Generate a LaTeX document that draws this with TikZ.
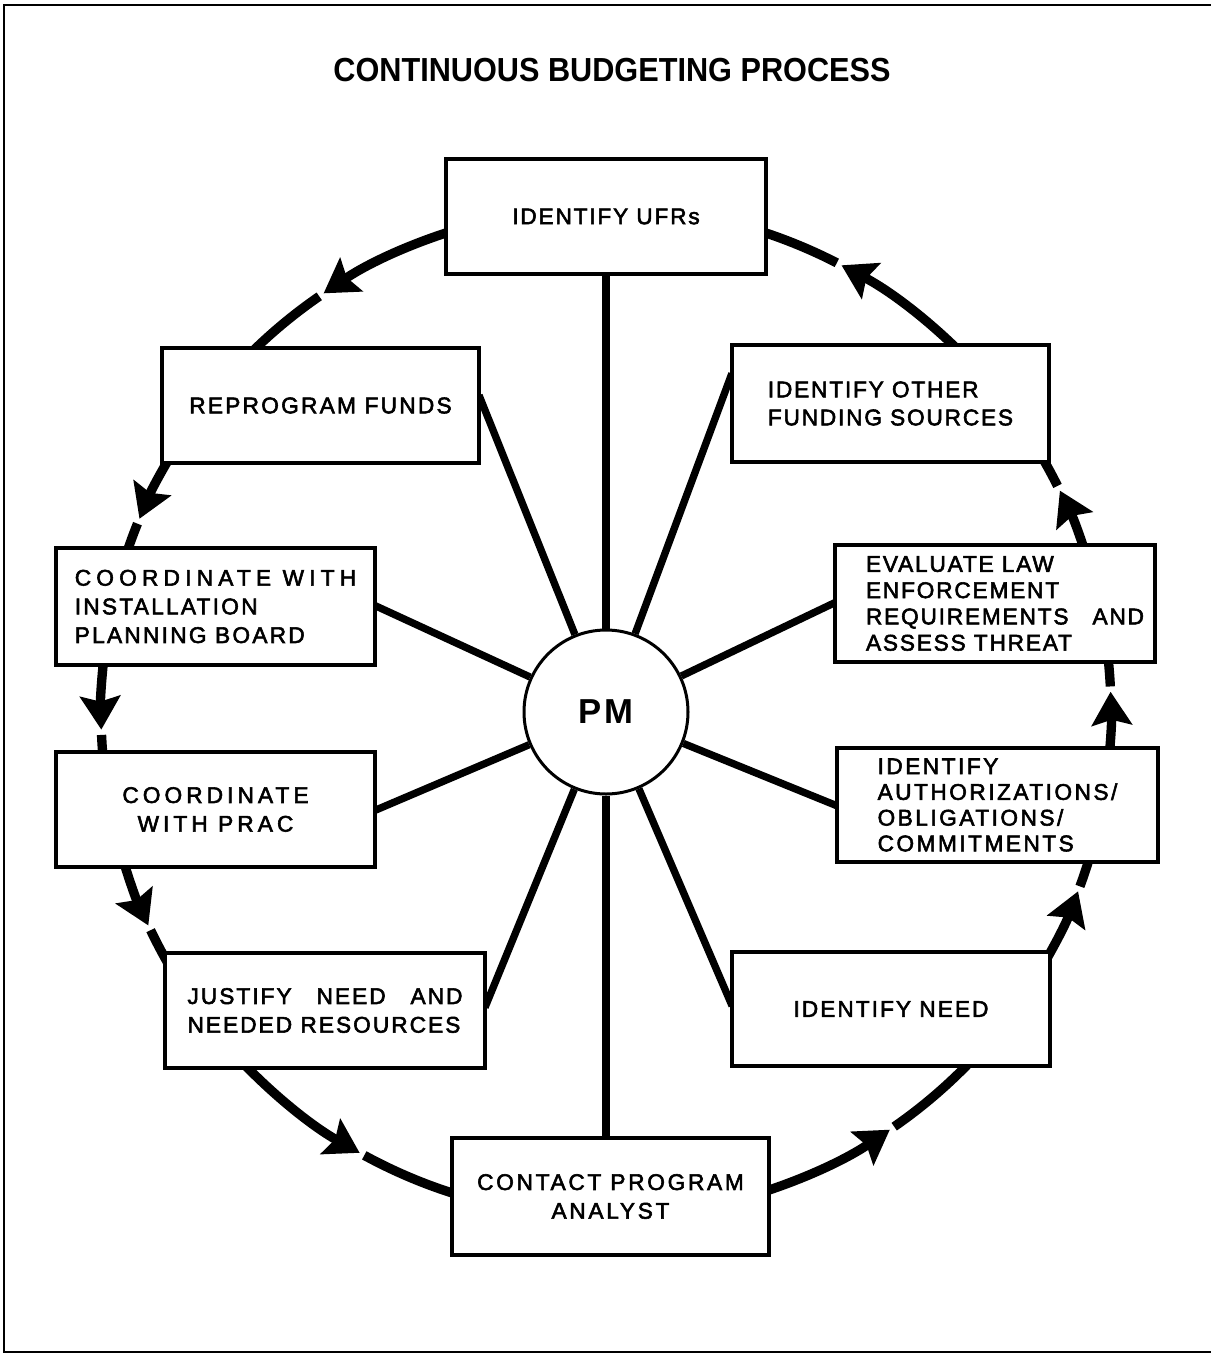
\documentclass[tikz,border=0pt]{standalone}
\usepackage{fontspec}
\setmainfont{Liberation Sans}
\newfontfamily\boxfont[FakeBold=2.5]{Liberation Sans}
\usetikzlibrary{arrows.meta,backgrounds}
\newcommand{\ls}[1]{\addfontfeature{LetterSpace=#1}}
\newcommand{\ringarc}[4]{%
  \draw[ringline,ringtip] (pm.center) ++(#1:378.75pt) arc[start angle=#1, end angle=#2, radius=378.75pt];
  \draw[ringline] (pm.center) ++(#3:378.75pt) arc[start angle=#3, end angle=#4, radius=378.75pt];}
\newcommand{\ind}{\hspace*{15pt}}
\begin{document}
\begin{tikzpicture}[x=0.75pt,y=-0.75pt,
  pbox/.style={draw, line width=3pt, fill=white, rectangle, inner sep=0pt,
    font=\boxfont\fontsize{17}{21.5}\selectfont\ls{#1}},
  spoke/.style={line width=5.5pt, shorten >=-4pt},
  ringline/.style={line width=7pt},
  ringtip/.style={-{Stealth[length=25pt,width=30pt,inset=4pt]}},
  framebox/.style={line width=2pt}]

\useasboundingbox (0,0) rectangle (1211,1354);
\draw[framebox] (1211,5) -- (4,5) -- (4,1352) -- (1211,1352);

\node (title) at (612,70) {\scalebox{0.92}[1]{\fontsize{25}{30}\selectfont\bfseries CONTINUOUS BUDGETING PROCESS}};

\node[circle, draw, line width=2.25pt, fill=white, minimum size=123pt, inner sep=0pt,
  font=\fontsize{26}{30}\selectfont\bfseries\ls{6}] (pm) at (606,712) {PM};

\node[pbox=8, minimum width=240pt, minimum height=86.25pt] (b1) at (606,216.5) {IDENTIFY UFRs};
\node[pbox=10, minimum width=237.75pt, minimum height=86.25pt] (b2) at (320.5,405.5) {REPROGRAM FUNDS};
\node[pbox=10, minimum width=239.25pt, minimum height=87.75pt, align=left] (b3) at (215.5,606.5)
  {{\ls{23}COORDINATE WITH}\\INSTALLATION\\PLANNING BOARD};
\node[pbox=18, minimum width=239.25pt, minimum height=86.25pt, align=center] (b4) at (215.5,809.5)
  {COORDINATE\\WITH PRAC};
\node[pbox=9, minimum width=240pt, minimum height=86.25pt, align=left] (b5) at (325,1010.5)
  {\makebox[206.25pt][s]{JUSTIFY NEED AND}\\NEEDED RESOURCES};
\node[pbox=12, minimum width=237.75pt, minimum height=87.75pt, align=center] (b6) at (610.5,1196.5)
  {CONTACT PROGRAM\\ANALYST};
\node[pbox=9, minimum width=238.5pt, minimum height=85.5pt] (b7) at (891,1009) {IDENTIFY NEED};
\node[pbox=11, minimum width=240.75pt, minimum height=85.5pt, align=left,
  font=\boxfont\fontsize{17}{19.3}\selectfont\ls{11}] (b8) at (997.5,805)
  {IDENTIFY\\AUTHORIZATIONS/\\OBLIGATIONS/\\COMMITMENTS};
\node[pbox=8, minimum width=240pt, minimum height=87.75pt, align=left,
  font=\boxfont\fontsize{17}{19.7}\selectfont\ls{8}] (b9) at (995,603.5)
  {\ind EVALUATE LAW\\\ind ENFORCEMENT\\\ind\makebox[208.5pt][s]{REQUIREMENTS AND}\\\ind ASSESS THREAT};
\node[pbox=8, minimum width=237.75pt, minimum height=87.75pt, align=left,
  font=\boxfont\fontsize{17}{21}\selectfont\ls{8}] (b10) at (890.5,403.5)
  {IDENTIFY OTHER\\FUNDING SOURCES};

\begin{scope}[on background layer]
  \draw[spoke] (pm) -- (pm|-b1.south);
  \draw[spoke] (pm) -- ([yshift=4pt]b2.east);
  \draw[spoke] (pm) -- (b3.east);
  \draw[spoke] (pm) -- (b4.east);
  \draw[spoke] (pm) -- ([yshift=6pt]b5.east);
  \draw[spoke] (pm) -- (pm|-b6.north);
  \draw[spoke] (pm) -- ([yshift=6pt]b7.west);
  \draw[spoke] (pm) -- (b8.west);
  \draw[spoke] (pm) -- (b9.west);
  \draw[spoke] (pm) -- ([yshift=18.75pt]b10.west);
  \ringarc{104}{124}{124.6}{136}
  \ringarc{147}{157.5}{158.1}{164}
  \ringarc{172}{182}{182.6}{187}
  \ringarc{195}{205}{205.6}{211}
  \ringarc{222}{240.8}{241.4}{255}
  \ringarc{-75}{-55.8}{-55.2}{-42}
  \ringarc{-33}{-20.8}{-20.2}{-14}
  \ringarc{-8}{2.3}{2.9}{8}
  \ringarc{15}{26}{26.6}{34}
  \ringarc{42}{62.2}{62.8}{76}
\end{scope}
\end{tikzpicture}
\end{document}
